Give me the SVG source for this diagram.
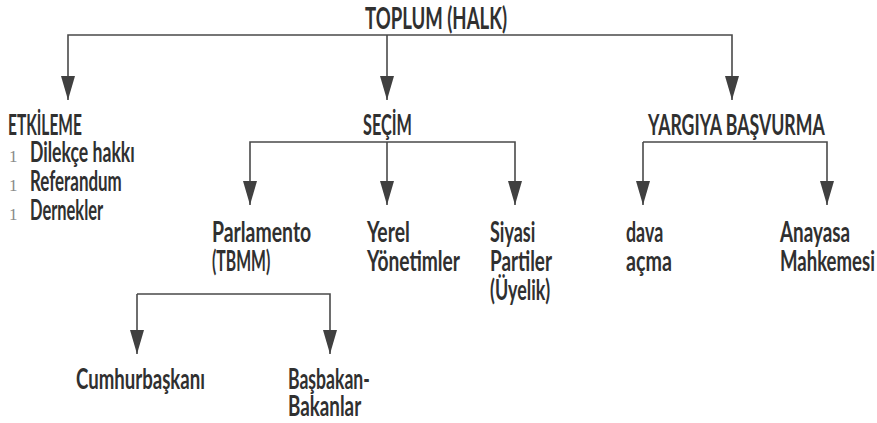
<svg xmlns="http://www.w3.org/2000/svg" width="877" height="423" viewBox="0 0 877 423">
<defs>
<marker id="ah" viewBox="0 0 24 14" refX="24" refY="7" markerWidth="24" markerHeight="14" markerUnits="userSpaceOnUse" orient="auto">
<path d="M0,0 L24,7 L0,14 Z" fill="#404040"/>
</marker>
<style>
.t{font-family:"Lato","Liberation Sans",sans-serif;font-size:29px;font-weight:bold;fill:#303030;}
.top{font-size:30px;}
.b{font-family:"Liberation Serif",serif;font-size:17px;fill:#8a8a8a;}
.c{fill:none;stroke:#4a4a4a;stroke-width:1.6;marker-end:url(#ah);}
</style>
</defs>
<rect width="877" height="423" fill="#ffffff"/>
<g id="connectors">
<path class="c" d="M387,35 H68 V100"/>
<path class="c" d="M387,35 H732 V100"/>
<path class="c" d="M387,35 V100"/>
<path class="c" d="M387,142 H250 V205"/>
<path class="c" d="M387,142 H515 V205"/>
<path class="c" d="M387,142 V205"/>
<path class="c" d="M643,142 V205"/>
<path class="c" d="M643,142 H827 V205"/>
<path class="c" d="M137,294 V354"/>
<path class="c" d="M137,294 H330 V354"/>
</g>
<g id="toplum"><text class="t top" transform="translate(365,29) scale(0.62,1)" textLength="229" lengthAdjust="spacingAndGlyphs">TOPLUM (HALK)</text></g>
<g id="etkileme">
<text class="t" transform="translate(8,135) scale(0.62,1)" textLength="119" lengthAdjust="spacingAndGlyphs">ETKİLEME</text>
<text class="b" x="9" y="162">1</text>
<text class="t" transform="translate(30,162) scale(0.62,1)" textLength="169" lengthAdjust="spacingAndGlyphs">Dilekçe hakkı</text>
<text class="b" x="9" y="191">1</text>
<text class="t" transform="translate(30,191) scale(0.62,1)" textLength="148" lengthAdjust="spacingAndGlyphs">Referandum</text>
<text class="b" x="9" y="220">1</text>
<text class="t" transform="translate(30,220) scale(0.62,1)" textLength="118" lengthAdjust="spacingAndGlyphs">Dernekler</text>
</g>
<g id="secim"><text class="t" transform="translate(363,135) scale(0.62,1)" textLength="79" lengthAdjust="spacingAndGlyphs">SEÇİM</text></g>
<g id="yargiya"><text class="t" transform="translate(648,135) scale(0.62,1)" textLength="285" lengthAdjust="spacingAndGlyphs">YARGIYA BAŞVURMA</text></g>
<g id="parlamento">
<text class="t" transform="translate(212,242) scale(0.62,1)" textLength="160" lengthAdjust="spacingAndGlyphs">Parlamento</text>
<text class="t" transform="translate(212,271) scale(0.62,1)" textLength="94" lengthAdjust="spacingAndGlyphs">(TBMM)</text>
</g>
<g id="yerel">
<text class="t" transform="translate(367,242) scale(0.62,1)" textLength="69" lengthAdjust="spacingAndGlyphs">Yerel</text>
<text class="t" transform="translate(367,271) scale(0.62,1)" textLength="150" lengthAdjust="spacingAndGlyphs">Yönetimler</text>
</g>
<g id="siyasi">
<text class="t" transform="translate(490,242) scale(0.62,1)" textLength="73" lengthAdjust="spacingAndGlyphs">Siyasi</text>
<text class="t" transform="translate(490,271) scale(0.62,1)" textLength="100" lengthAdjust="spacingAndGlyphs">Partiler</text>
<text class="t" transform="translate(490,300) scale(0.62,1)" textLength="97" lengthAdjust="spacingAndGlyphs">(Üyelik)</text>
</g>
<g id="dava">
<text class="t" transform="translate(626,242) scale(0.62,1)" textLength="60" lengthAdjust="spacingAndGlyphs">dava</text>
<text class="t" transform="translate(626,271) scale(0.62,1)" textLength="74" lengthAdjust="spacingAndGlyphs">açma</text>
</g>
<g id="anayasa">
<text class="t" transform="translate(780,242) scale(0.62,1)" textLength="113" lengthAdjust="spacingAndGlyphs">Anayasa</text>
<text class="t" transform="translate(780,271) scale(0.62,1)" textLength="153" lengthAdjust="spacingAndGlyphs">Mahkemesi</text>
</g>
<g id="cumhurbaskani"><text class="t" transform="translate(76,389) scale(0.62,1)" textLength="208" lengthAdjust="spacingAndGlyphs">Cumhurbaşkanı</text></g>
<g id="basbakan">
<text class="t" transform="translate(288,389) scale(0.62,1)" textLength="132" lengthAdjust="spacingAndGlyphs">Başbakan-</text>
<text class="t" transform="translate(288,416) scale(0.62,1)" textLength="118" lengthAdjust="spacingAndGlyphs">Bakanlar</text>
</g>
</svg>
